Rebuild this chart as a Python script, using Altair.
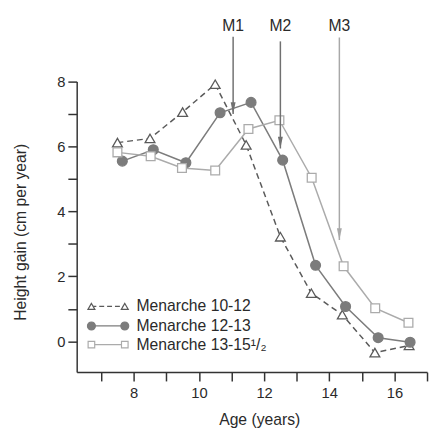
import altair as alt
import pandas as pd

# ---- data ----
ages_a = [7.5, 8.5, 9.5, 10.5, 11.45, 12.5, 13.45, 14.4, 15.4, 16.45]
gain_a = [6.12, 6.25, 7.06, 7.92, 6.05, 3.22, 1.48, 0.82, -0.35, -0.13]

ages_b = [7.65, 8.6, 9.6, 10.65, 11.6, 12.57, 13.58, 14.5, 15.5, 16.48]
gain_b = [5.55, 5.9, 5.5, 7.04, 7.36, 5.58, 2.34, 1.07, 0.11, -0.03]

ages_c = [7.5, 8.52, 9.48, 10.5, 11.52, 12.47, 13.46, 14.44, 15.41, 16.43]
gain_c = [5.82, 5.7, 5.34, 5.26, 6.54, 6.81, 5.04, 2.31, 1.02, 0.57]

series_names = ["Menarche 10-12", "Menarche 12-13", "Menarche 13-15¹/₂"]

arrow_labels = ["M1", "M2", "M3"]
arrow_age = [11.05, 12.5, 14.31]
arrow_top = [9.38, 9.24, 9.36]
arrow_tip = [7.0, 5.94, 3.12]
label_y = [9.72, 9.72, 9.72]

x_ticks = [7, 8, 9, 10, 11, 12, 13, 14, 15, 16, 17]
y_ticks = [0, 1, 2, 3, 4, 5, 6, 7, 8]

FONT = "Liberation Sans"
TXT = "#2a2a2a"
C_A = "#5a5a5a"
C_B = "#7c7c7c"
C_C = "#ababab"
ARROW_COLORS = ["#707070", "#707070", "#a8a8a8"]

xs = alt.Scale(domain=[6.25, 17], nice=False, zero=False)
ys = alt.Scale(domain=[-0.95, 8], nice=False, zero=False)

x_axis = alt.Axis(
    values=x_ticks, labelExpr="datum.value % 2 == 0 ? datum.label : ''",
    labelOverlap=False, labelBound=False, labelFlush=False,
    title="Age (years)", titleFontSize=16, titleFont=FONT, titleFontWeight="normal",
    titleColor=TXT, titleX=186, titleY=53, titleAlign="center",
    titleBaseline="alphabetic",
    labelFont=FONT, labelFontSize=15, labelColor=TXT, labelPadding=5,
    tickSize=9, tickColor="#333", tickWidth=1.5, domainColor="#333", domainWidth=1.5,
    grid=False,
)
y_axis = alt.Axis(
    values=y_ticks, labelExpr="datum.value % 2 == 0 ? datum.label : ''",
    labelOverlap=False, labelBound=False, labelFlush=False,
    title="Height gain (cm per year)", titleFontSize=16, titleFont=FONT,
    titleFontWeight="normal", titleColor=TXT, titleAngle=-90, titleX=-57, titleY=153,
    titleAlign="center", titleBaseline="middle",
    labelFont=FONT, labelFontSize=15, labelColor=TXT, labelPadding=3,
    tickSize=9, tickColor="#333", tickWidth=1.5, domainColor="#333", domainWidth=1.5,
    grid=False,
)


def X(field):
    return alt.X(field, type="quantitative", scale=xs, axis=x_axis)


def Y(field):
    return alt.Y(field, type="quantitative", scale=ys, axis=y_axis)


def series_layers(ages, gains, color, shape, filled, size, dash):
    df = pd.DataFrame({"age": ages, "gain": gains})
    base = alt.Chart(df)
    line_kw = dict(color=color, strokeWidth=1.5)
    if dash:
        line_kw["strokeDash"] = [6, 4]
    line = base.mark_line(**line_kw).encode(x=X("age"), y=Y("gain"))
    pt = base.mark_point(
        shape=shape, size=size, filled=True,
        fill=color if filled else "white", stroke=color, strokeWidth=1.3, opacity=1,
    ).encode(x=X("age"), y=Y("gain"))
    return [line, pt]


layers = []
layers += series_layers(ages_a, gain_a, C_A, "triangle-up", False, 100, True)
layers += series_layers(ages_b, gain_b, C_B, "circle", True, 100, False)
layers += series_layers(ages_c, gain_c, C_C, "square", False, 80, False)

# arrows
arr = pd.DataFrame({"lab": arrow_labels, "age": arrow_age, "top": arrow_top,
                    "tip": arrow_tip, "ly": label_y, "col": ARROW_COLORS})
arrow_color = alt.Color("col:N", scale=None)
layers.append(alt.Chart(arr).mark_rule(strokeWidth=1.5).encode(
    x=X("age"), y=Y("top"), y2="tip:Q", color=arrow_color))
layers.append(alt.Chart(arr).mark_point(
    shape="M-2.5,-12L2.5,-12L0,0Z", size=4, filled=True, opacity=1).encode(
    x=X("age"), y=Y("tip"), color=arrow_color))
layers.append(alt.Chart(arr).mark_text(
    font=FONT, fontSize=16, color=TXT, baseline="middle", align="center").encode(
    x=X("age"), y=Y("ly"), text="lab:N"))

# legend (drawn in pixel space inside the plot area)
leg_rows = [229, 249, 268]
leg_styles = [
    (C_A, "triangle-up", False, 50, True),
    (C_B, "circle", True, 65, False),
    (C_C, "square", False, 45, False),
]
dummy = pd.DataFrame({"k": [0]})
for name, yy, (col, shp, filled, sz, dash) in zip(series_names, leg_rows, leg_styles):
    rk = dict(color=col, strokeWidth=1.3)
    if dash:
        rk["strokeDash"] = [5, 3]
    layers.append(alt.Chart(dummy).mark_rule(**rk).encode(
        x=alt.value(15), x2=alt.value(49), y=alt.value(yy)))
    for px in (15, 49):
        layers.append(alt.Chart(dummy).mark_point(
            shape=shp, size=sz, filled=True, fill=col if filled else "white",
            stroke=col, strokeWidth=1.2, opacity=1).encode(
            x=alt.value(px), y=alt.value(yy)))
    layers.append(alt.Chart(pd.DataFrame({"t": [name]})).mark_text(
        font=FONT, fontSize=16, color=TXT, align="left", baseline="middle").encode(
        x=alt.value(61), y=alt.value(yy), text="t:N"))

chart = alt.layer(*layers).properties(
    width=357, height=296,
    autosize=alt.AutoSizeParams(type="none"),
    padding={"left": 70, "top": 71, "right": 2, "bottom": 56},
    background="white",
).configure_view(stroke=None)

chart.save("out.html", embed_options={"renderer": "svg", "actions": False})
